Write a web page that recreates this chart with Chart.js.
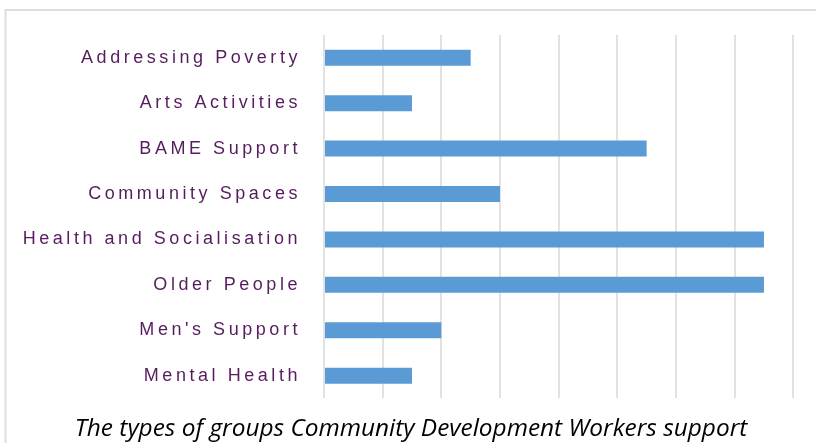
<!DOCTYPE html>
<html>
<head>
<meta charset="utf-8">
<script src="https://cdn.jsdelivr.net/npm/chart.js@4.4.1/dist/chart.umd.min.js"></script>
<style>
  html, body { margin: 0; padding: 0; background: #ffffff; overflow: hidden; }
  #wrap { position: relative; width: 816px; height: 443px; }
</style>
</head>
<body>
<div id="wrap"><canvas id="chart" width="816" height="443"></canvas></div>
<script>
// Group types supported by Community Development Workers
const categories = [
  'Addressing Poverty',
  'Arts Activities',
  'BAME Support',
  'Community Spaces',
  'Health and Socialisation',
  'Older People',
  "Men's Support",
  'Mental Health'
];
const groupCounts = [5, 3, 11, 6, 15, 15, 4, 3];
const axisMin = 0;
const axisMax = 16;
const axisStep = 2;
const captionText = 'The types of groups Community Development Workers support';

const LABEL_SPACING = '3.55px';

// Light grey frame around the figure, caption under the plot,
// and letter spacing for the category labels
const framePlugin = {
  id: 'frame',
  beforeDraw(chart) {
    const ctx = chart.ctx;
    ctx.letterSpacing = '0px';
    ctx.save();
    ctx.strokeStyle = '#dedede';
    ctx.lineWidth = 2;
    ctx.strokeRect(5.5, 10, 1000, 1000);
    ctx.restore();
  },
  afterDatasetsDraw(chart) {
    // category labels (ticks z = 1) are drawn after this point
    chart.ctx.letterSpacing = LABEL_SPACING;
  },
  afterDraw(chart) {
    const ctx = chart.ctx;
    ctx.letterSpacing = '0px';
    ctx.save();
    ctx.font = 'italic 24.4px "Open Sans", Lato, sans-serif';
    ctx.fillStyle = '#000000';
    ctx.textAlign = 'center';
    ctx.textBaseline = 'alphabetic';
    ctx.fillText(captionText, 411, 435.5);
    ctx.restore();
  }
};

new Chart(document.getElementById('chart'), {
  type: 'bar',
  data: {
    labels: categories,
    datasets: [{
      data: groupCounts,
      backgroundColor: '#5b9bd5',
      borderWidth: 0,
      categoryPercentage: 1,
      barPercentage: 0.352
    }]
  },
  options: {
    indexAxis: 'y',
    responsive: false,
    animation: false,
    devicePixelRatio: 1,
    layout: { padding: { top: 35, left: 0, right: 22.7, bottom: 44.6 } },
    plugins: {
      legend: { display: false },
      tooltip: { enabled: false },
      title: { display: false }
    },
    scales: {
      x: {
        min: axisMin,
        max: axisMax,
        ticks: { display: false, stepSize: axisStep },
        grid: { color: '#e2e2e2', lineWidth: 2, drawTicks: false },
        border: { display: false }
      },
      y: {
        ticks: {
          color: '#561c5e',
          font: { family: '"Liberation Sans", Arial, sans-serif', size: 18 },
          padding: 23,
          z: 1
        },
        grid: { display: false, drawTicks: false },
        border: { display: false },
        afterFit(scale) { scale.width = 324; }
      }
    }
  },
  plugins: [framePlugin]
});
</script>
</body>
</html>
